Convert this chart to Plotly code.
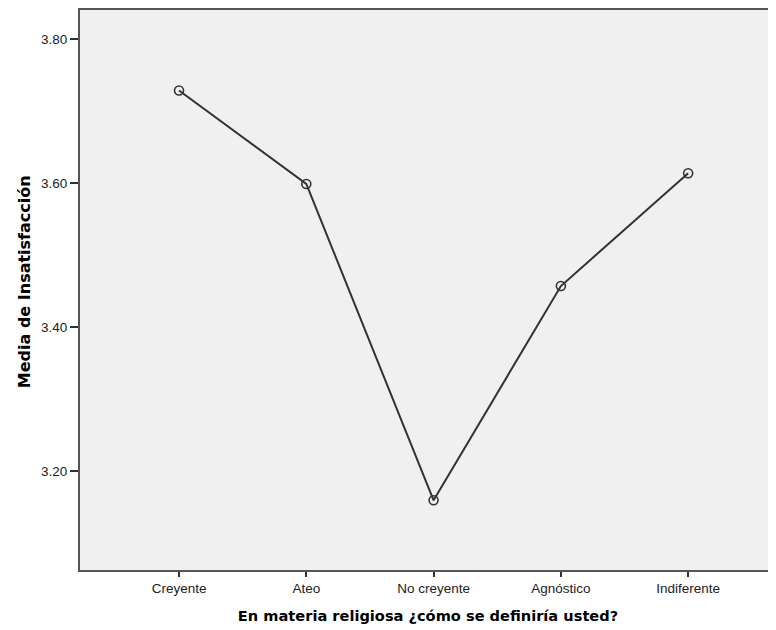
import plotly.graph_objects as go

categories = ["Creyente", "Ateo", "No creyente", "Agnóstico", "Indiferente"]
means = [3.729, 3.599, 3.159, 3.457, 3.614]
y_ticks = [3.20, 3.40, 3.60, 3.80]
y_tick_labels = ["3.20", "3.40", "3.60", "3.80"]

fig = go.Figure()
fig.add_trace(go.Scatter(
    x=list(range(len(categories))),
    y=means,
    mode="lines+markers",
    line=dict(color="#333333", width=2),
    marker=dict(symbol="circle-open", size=9, color="#333333", line=dict(width=1.6)),
    showlegend=False,
))

axis_font = dict(family="Liberation Sans, Arial, sans-serif", size=13.5, color="#222222")
xtitle_font = dict(family="DejaVu Sans, Verdana, sans-serif", size=14.6, color="#000000")
ytitle_font = dict(family="DejaVu Sans, Verdana, sans-serif", size=16, color="#000000")

fig.update_layout(
    width=768, height=622,
    margin=dict(l=72, r=0, t=2, b=60),
    paper_bgcolor="white",
    plot_bgcolor="#F0F0F0",
    xaxis=dict(
        tickmode="array",
        tickvals=list(range(len(categories))),
        ticktext=categories,
        range=[-0.778, 4.69],
        showgrid=False, zeroline=False,
        showline=True, linecolor="#555555", linewidth=2, mirror=True,
        ticks="outside", ticklen=5, tickwidth=1.5, tickcolor="#333333",
        tickfont=axis_font,
        title=dict(text="<b>En materia religiosa ¿cómo se definiría usted?</b>",
                   font=xtitle_font, standoff=16),
    ),
    yaxis=dict(
        tickmode="array",
        tickvals=y_ticks,
        ticktext=y_tick_labels,
        range=[3.062, 3.841],
        showgrid=False, zeroline=False,
        showline=True, linecolor="#555555", linewidth=2,
        ticks="outside", ticklen=8, tickwidth=1.5, tickcolor="#333333",
        tickfont=axis_font,
    ),
    annotations=[dict(
        text="<b>Media de Insatisfacción</b>",
        xref="paper", yref="paper", x=0, y=0.514, xshift=-56,
        xanchor="center", yanchor="middle", textangle=-90,
        showarrow=False, font=ytitle_font,
    )],
)

fig.write_html("out.html")
